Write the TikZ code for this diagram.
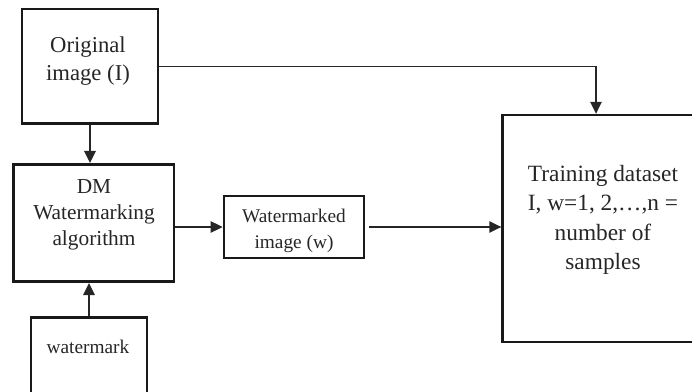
\documentclass[tikz,border=0pt]{standalone}
\usepackage{fontspec}
\setmainfont{Liberation Serif}
\usetikzlibrary{arrows.meta}
\begin{document}
\begin{tikzpicture}[x=0.75pt,y=-0.75pt,
  box/.style={draw=black!90, line width=2pt, rectangle, inner sep=0pt},
  txt/.style={align=center, inner sep=0pt, text=black!85},
  conn/.style={draw=black!85, line width=1.2pt, -{Triangle[length=9pt,width=8.5pt]}}]
\useasboundingbox (0,0) rectangle (692,392);
% boxes
\node[box, minimum width=102pt, minimum height=86pt] (orig) at (90,66.5) {};
\node[box, minimum width=120.5pt, minimum height=88pt] (dm) at (93.5,223) {};
\node[box, minimum width=105pt, minimum height=46.5pt] (wmd) at (294,227) {};
\node[box, minimum width=146pt, minimum height=170pt] (train) at (600,228.5) {};
\node[box, minimum width=87pt, minimum height=62pt] (wm) at (89,358.5) {};
% texts
\node[txt, font=\fontsize{17}{21}\selectfont] (origT) at (88,61) {Original\\image (I)};
\node[txt, font=\fontsize{16}{19.5}\selectfont] (dmT) at (94,215) {DM\\Watermarking\\algorithm};
\node[txt, font=\fontsize{14.5}{19}\selectfont] (wmdT) at (294,231) {Watermarked\\image (w)};
\node[txt, font=\fontsize{17.5}{22}\selectfont] (trainT) at (603,220) {Training dataset\\I, w=1, 2,\dots,n =\\number of\\samples};
\node[txt, font=\fontsize{14.5}{18}\selectfont] (wmT) at (88,347) {watermark};
% connectors
\draw[conn] (orig.south) -- (orig.south |- dm.north);
\draw[conn] (wm.north) -- (wm.north |- dm.south);
\draw[conn] (wmd.west -| dm.east) -- (wmd.west);
\draw[conn] ([xshift=3pt]wmd.east) -- (wmd.east -| train.west);
\draw[conn] (orig.east) -| ([xshift=-3pt]train.north);
\end{tikzpicture}
\end{document}
